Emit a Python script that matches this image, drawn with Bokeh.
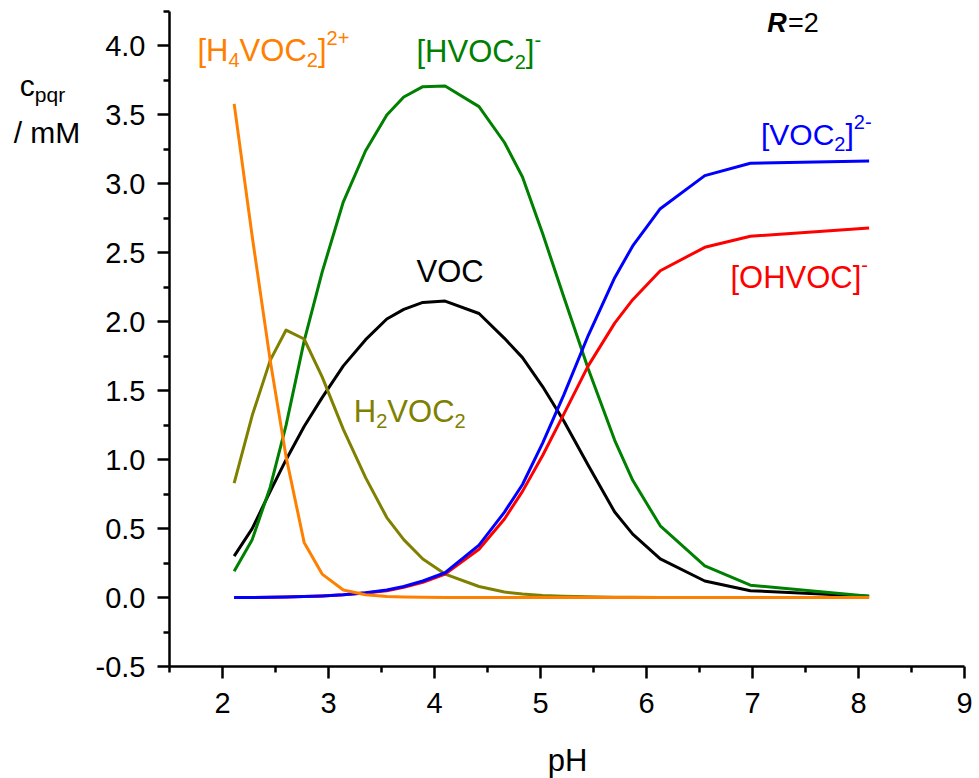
from bokeh.plotting import figure
from bokeh.models import Range1d, FixedTicker, NumeralTickFormatter, Label
from bokeh.embed import file_html
from bokeh.resources import INLINE

# ---------------- data ----------------
ph = [2.11, 2.28, 2.45, 2.60, 2.77, 2.94, 3.14, 3.35, 3.55, 3.71, 3.89, 4.10,
      4.42, 4.66, 4.83, 5.02, 5.22, 5.45, 5.70, 5.87, 6.13, 6.55, 6.98, 8.10]

h4voc2 = [3.58, 2.62, 1.72, 1.02, 0.40, 0.17, 0.055, 0.02, 0.008, 0.004, 0.002, 0.001,
          0.0, 0.0, 0.0, 0.0, 0.0, 0.0, 0.0, 0.0, 0.0, 0.0, 0.0, 0.0]
hvoc2 = [0.19, 0.42, 0.80, 1.25, 1.86, 2.36, 2.87, 3.24, 3.50, 3.63, 3.705, 3.71,
         3.56, 3.30, 3.05, 2.64, 2.18, 1.66, 1.14, 0.85, 0.52, 0.23, 0.09, 0.01]
voc = [0.30, 0.50, 0.77, 1.00, 1.24, 1.45, 1.68, 1.87, 2.02, 2.09, 2.14, 2.15,
       2.06, 1.88, 1.74, 1.53, 1.28, 0.96, 0.62, 0.46, 0.28, 0.12, 0.05, 0.01]
h2voc2 = [0.83, 1.32, 1.72, 1.94, 1.875, 1.60, 1.22, 0.87, 0.58, 0.42, 0.28, 0.17,
          0.08, 0.04, 0.025, 0.015, 0.01, 0.005, 0.003, 0.002, 0.001, 0.0, 0.0, 0.0]
voc2 = [0.0, 0.0, 0.002, 0.004, 0.007, 0.012, 0.02, 0.035, 0.055, 0.08, 0.12, 0.18,
        0.38, 0.62, 0.82, 1.12, 1.47, 1.90, 2.32, 2.55, 2.82, 3.06, 3.15, 3.165]
ohvoc = [0.0, 0.0, 0.002, 0.004, 0.007, 0.012, 0.02, 0.033, 0.05, 0.075, 0.11, 0.17,
         0.35, 0.57, 0.77, 1.03, 1.33, 1.68, 1.99, 2.16, 2.37, 2.54, 2.62, 2.68]

x_major = [2, 3, 4, 5, 6, 7, 8, 9]
x_minor = [1.5, 2.5, 3.5, 4.5, 5.5, 6.5, 7.5, 8.5]
y_major = [-0.5, 0.0, 0.5, 1.0, 1.5, 2.0, 2.5, 3.0, 3.5, 4.0]
y_minor = [-0.25, 0.25, 0.75, 1.25, 1.75, 2.25, 2.75, 3.25, 3.75, 4.25]

FONT = "Liberation Sans"
W_PX, H_PX = 979, 778

# axis extent (data) and where the axes sit on the canvas (pixels)
X_LO, X_HI = 1.5, 9.0
Y_LO, Y_HI = -0.5, 4.25
AX_L, AX_R, AX_T, AX_B = 169, 964, 11, 666
sx = (AX_R - AX_L) / (X_HI - X_LO)
sy = (AX_B - AX_T) / (Y_HI - Y_LO)

p = figure(width=W_PX, height=H_PX, output_backend="svg", toolbar_location=None,
           title=None,
           x_range=Range1d(X_LO - AX_L / sx, X_HI + (W_PX - AX_R) / sx),
           y_range=Range1d(Y_LO - (H_PX - AX_B) / sy, Y_HI + AX_T / sy),
           min_border=0, min_border_left=0, min_border_right=0,
           min_border_top=0, min_border_bottom=0)
p.outline_line_color = None
p.grid.visible = False
p.background_fill_color = "white"
p.border_fill_color = "white"

p.xaxis.fixed_location = Y_LO
p.yaxis.fixed_location = X_LO
p.xaxis.bounds = (X_LO, X_HI)
p.yaxis.bounds = (Y_LO, Y_HI)
p.xaxis.ticker = FixedTicker(ticks=x_major, minor_ticks=x_minor)
p.yaxis.ticker = FixedTicker(ticks=y_major, minor_ticks=y_minor)
p.xaxis.formatter = NumeralTickFormatter(format="0")
p.yaxis.formatter = NumeralTickFormatter(format="0.0")
for ax in (p.xaxis, p.yaxis):
    ax.axis_line_width = 2.5
    ax.major_tick_line_width = 2.5
    ax.minor_tick_line_width = 2.5
    ax.major_tick_out = 12
    ax.major_tick_in = 0
    ax.minor_tick_out = 6
    ax.minor_tick_in = 0
    ax.major_label_text_font = FONT
    ax.major_label_text_font_size = "29px"
    ax.major_label_text_color = "black"
p.xaxis.major_label_standoff = 14
p.yaxis.major_label_standoff = 12

LW = 3
p.line(ph, voc, color="black", line_width=LW, line_join="round")
p.line(ph, hvoc2, color="#008000", line_width=LW, line_join="round")
p.line(ph, h2voc2, color="#808000", line_width=LW, line_join="round")
p.line(ph, ohvoc, color="#FF0000", line_width=LW, line_join="round")
p.line(ph, voc2, color="#0000FF", line_width=LW, line_join="round")
p.line(ph, h4voc2, color="#FF8000", line_width=LW, line_join="round")

# Arial / Liberation Sans advance widths (em)
W = {"[": 0.278, "]": 0.278, "H": 0.722, "V": 0.667, "O": 0.778, "C": 0.722,
     "R": 0.722, "=": 0.584, "2": 0.556, "4": 0.556, "+": 0.584, "-": 0.333,
     "p": 0.556, "q": 0.556, "r": 0.333, "c": 0.5, "/": 0.278, " ": 0.278,
     "m": 0.833, "M": 0.833}

BASE_DY = 10  # baseline correction in pixels


def tw(s, size, bold=False):
    f = 1.06 if bold else 1.0
    return sum(W.get(ch, 0.6) for ch in s) * size * f


def rich(x, y, runs, color, main=31, small=20, sub_dy=-10, sup_dy=12, align="left"):
    total = sum(tw(t, main if k in ("n", "b") else small, k == "b") for t, k in runs)
    off = -total / 2 if align == "center" else 0.0
    for text, kind in runs:
        style = "normal"
        if kind == "n":
            size, dy = main, 0
        elif kind == "b":
            size, dy, style = main, 0, "bold italic"
        elif kind == "sub":
            size, dy = small, sub_dy
        else:
            size, dy = small, sup_dy
        p.add_layout(Label(x=x, y=y, x_offset=off, y_offset=dy + BASE_DY, text=text,
                           text_font=FONT, text_font_size=f"{size}px",
                           text_font_style=style, text_color=color,
                           text_baseline="alphabetic", text_align="left"))
        off += tw(text, size, bold=(kind == "b"))


rich(1.764, 3.895, [("[H", "n"), ("4", "sub"), ("VOC", "n"), ("2", "sub"), ("]", "n"), ("2+", "sup")], "#FF8000")
rich(3.83, 3.886, [("[HVOC", "n"), ("2", "sub"), ("]", "n"), ("-", "sup")], "#008000")
rich(3.83, 2.29, [("VOC", "n")], "black")
rich(3.239, 1.277, [("H", "n"), ("2", "sub"), ("VOC", "n"), ("2", "sub")], "#808000")
rich(7.08, 3.288, [("[VOC", "n"), ("2", "sub"), ("]", "n"), ("2-", "sup")], "#0000FF", main=30)
rich(6.792, 2.249, [("[OHVOC]", "n"), ("-", "sup")], "#FF0000")
rich(7.139, 4.092, [("R", "b"), ("=2", "n")], "black", main=27)
rich(0.088, 3.638, [("c", "n"), ("pqr", "sub")], "black", main=30, small=21, sub_dy=-9)
rich(0.030, 3.299, [("/ mM", "n")], "black", main=30)
rich(5.255, -1.254, [("pH", "n")], "black", main=31, align="center")

open("out.html", "w").write(file_html(p, INLINE))
